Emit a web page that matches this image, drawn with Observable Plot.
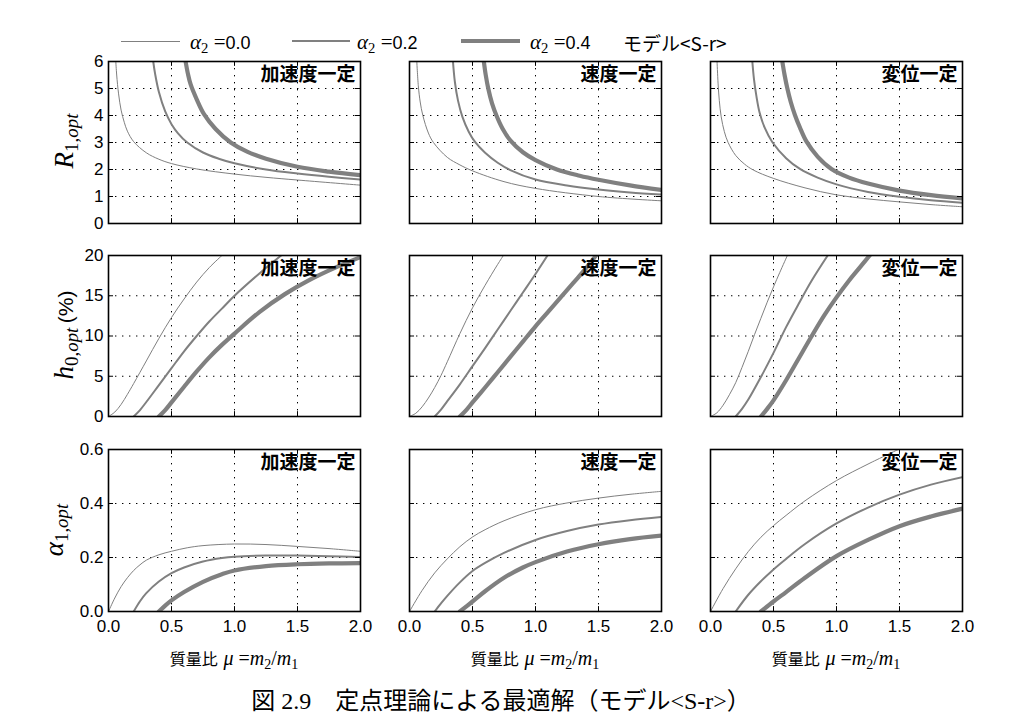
<!DOCTYPE html>
<html><head><meta charset="utf-8">
<script src="https://cdn.jsdelivr.net/npm/d3@7"></script>
<script src="https://cdn.jsdelivr.net/npm/@observablehq/plot@0.6"></script>
<style>
body{margin:0;background:#fff;}
#fig{position:relative;width:1018px;height:724px;font-family:"Liberation Sans",sans-serif;color:#000;overflow:hidden;}
.row{position:absolute;left:0;}
.math{font-family:"Liberation Serif","DejaVu Serif",serif;}
.math i{font-style:italic;}
sub{font-size:0.7em;vertical-align:-0.3em;line-height:0;}
.ylab{position:absolute;transform:translate(-50%,-50%) rotate(-90deg);white-space:nowrap;}
.xlab{position:absolute;transform:translate(-50%,-50%);white-space:nowrap;font-size:20px;}
.leg{position:absolute;white-space:nowrap;font-size:18px;transform:translateY(-50%);}
.legline{position:absolute;background:#808080;}
#caption{position:absolute;left:501px;top:698px;transform:translate(-50%,-50%);white-space:nowrap;font-size:24px;font-family:"Liberation Serif","Noto Sans CJK JP",serif;}
</style>
</head><body>
<div id="fig"></div>
<script>
// ---------- categories / series ----------
const modes = ["加速度一定", "速度一定", "変位一定"];
const alpha2 = [0.0, 0.2, 0.4];
const xTicks = [0, 0.5, 1.0, 1.5, 2.0];
const rTicks = [0, 1, 2, 3, 4, 5, 6];
const hTicks = [0, 5, 10, 15, 20];
const aTicks = [0.0, 0.2, 0.4, 0.6];

// ---------- R_1,opt  [mu, value] ----------
const R_acc_a00 = [[0.058,6.0],[0.065,5.5],[0.08,4.8],[0.1,4.2],[0.125,3.75],[0.15,3.42],[0.2,3.03],[0.3,2.62],[0.4,2.38],[0.5,2.22],[0.7,2.02],[1.0,1.83],[1.25,1.71],[1.5,1.61],[2.0,1.42]];
const R_acc_a02 = [[0.355,6.0],[0.37,5.54],[0.4,4.87],[0.45,4.15],[0.5,3.68],[0.55,3.35],[0.625,3.0],[0.75,2.63],[0.875,2.4],[1.0,2.23],[1.25,2.0],[1.5,1.85],[1.75,1.73],[2.0,1.63]];
const R_acc_a04 = [[0.612,6.0],[0.63,5.55],[0.652,5.15],[0.7,4.6],[0.758,4.05],[0.85,3.5],[0.97,3.0],[1.1,2.66],[1.25,2.4],[1.5,2.1],[1.75,1.92],[2.0,1.79]];
const R_vel_a00 = [[0.058,6.0],[0.07,5.1],[0.085,4.5],[0.106,4.0],[0.15,3.35],[0.19,3.0],[0.3,2.45],[0.4,2.17],[0.5,1.95],[0.75,1.55],[1.0,1.3],[1.5,1.0],[2.0,0.84]];
const R_vel_a02 = [[0.345,6.0],[0.36,5.25],[0.385,4.55],[0.42,3.95],[0.47,3.4],[0.52,3.02],[0.6,2.62],[0.7,2.25],[0.8,1.98],[1.0,1.63],[1.25,1.41],[1.5,1.26],[1.75,1.15],[2.0,1.07]];
const R_vel_a04 = [[0.59,6.0],[0.605,5.5],[0.625,5.0],[0.655,4.45],[0.69,4.0],[0.74,3.5],[0.8,3.08],[0.9,2.64],[1.0,2.35],[1.17,2.0],[1.35,1.77],[1.5,1.62],[1.75,1.41],[2.0,1.24]];
const R_dis_a00 = [[0.052,6.0],[0.06,5.2],[0.07,4.55],[0.085,3.95],[0.11,3.4],[0.14,3.0],[0.2,2.52],[0.27,2.2],[0.34,1.98],[0.5,1.67],[0.75,1.32],[1.0,1.06],[1.25,0.91],[1.5,0.8],[1.75,0.7],[2.0,0.62]];
const R_dis_a02 = [[0.332,6.0],[0.345,5.35],[0.365,4.7],[0.39,4.1],[0.43,3.55],[0.49,3.02],[0.6,2.42],[0.71,2.02],[0.85,1.7],[1.0,1.45],[1.25,1.17],[1.5,0.99],[1.75,0.86],[2.0,0.77]];
const R_dis_a04 = [[0.57,6.0],[0.588,5.5],[0.61,5.0],[0.637,4.5],[0.67,4.02],[0.71,3.55],[0.76,3.05],[0.85,2.48],[0.96,2.02],[1.1,1.7],[1.25,1.48],[1.5,1.22],[1.75,1.05],[2.0,0.93]];

// ---------- h_0,opt (%) ----------
const h_acc_a00 = [[0,0],[0.05,0.55],[0.1,1.5],[0.15,2.75],[0.2,4.1],[0.3,6.9],[0.4,9.7],[0.5,12.3],[0.6,14.6],[0.7,16.7],[0.8,18.5],[0.9,20]];
const h_acc_a02 = [[0.2,0],[0.25,0.8],[0.3,1.8],[0.4,3.9],[0.5,6.0],[0.6,8.1],[0.7,10.0],[0.8,11.8],[0.9,13.4],[1.0,15.0],[1.2,17.8],[1.37,20]];
const h_acc_a04 = [[0.4,0],[0.45,0.8],[0.5,1.75],[0.6,3.7],[0.7,5.6],[0.8,7.35],[0.9,8.9],[1.0,10.3],[1.2,13.0],[1.4,15.2],[1.6,17.0],[1.8,18.5],[2.0,19.8]];
const h_vel_a00 = [[0,0],[0.05,0.4],[0.1,1.2],[0.15,2.3],[0.2,3.6],[0.25,5.1],[0.3,6.8],[0.4,10.3],[0.5,13.5],[0.6,16.3],[0.7,18.9],[0.745,20]];
const h_vel_a02 = [[0.2,0],[0.25,0.85],[0.3,1.9],[0.4,4.0],[0.5,6.25],[0.6,8.5],[0.7,10.8],[0.8,13.1],[0.9,15.4],[1.0,17.7],[1.095,20]];
const h_vel_a04 = [[0.4,0],[0.45,0.8],[0.5,1.75],[0.6,3.6],[0.7,5.5],[0.8,7.4],[0.9,9.3],[1.0,11.2],[1.1,13.0],[1.2,14.8],[1.3,16.6],[1.4,18.4],[1.48,20]];
const h_dis_a00 = [[0,0],[0.05,0.45],[0.1,1.4],[0.15,2.7],[0.2,4.2],[0.25,6.1],[0.3,8.1],[0.35,10.2],[0.4,12.2],[0.45,14.2],[0.5,16.1],[0.55,17.9],[0.61,20]];
const h_dis_a02 = [[0.2,0],[0.25,0.95],[0.3,2.1],[0.4,4.9],[0.5,7.9],[0.6,11.1],[0.7,14.0],[0.8,16.8],[0.93,20]];
const h_dis_a04 = [[0.4,0],[0.45,0.95],[0.5,2.0],[0.6,4.5],[0.7,7.2],[0.8,9.9],[0.9,12.5],[1.0,14.8],[1.1,16.9],[1.2,18.8],[1.263,20]];

// ---------- alpha_1,opt ----------
const a_acc_a00 = [[0,0],[0.05,0.05],[0.1,0.092],[0.15,0.125],[0.2,0.152],[0.25,0.173],[0.3,0.19],[0.4,0.21],[0.5,0.223],[0.625,0.236],[0.75,0.244],[1.0,0.25],[1.25,0.248],[1.5,0.241],[1.75,0.233],[2.0,0.223]];
const a_acc_a02 = [[0.2,0],[0.25,0.038],[0.3,0.068],[0.4,0.111],[0.5,0.142],[0.6,0.163],[0.75,0.185],[0.9,0.198],[1.0,0.203],[1.25,0.207],[1.5,0.207],[1.75,0.205],[2.0,0.202]];
const a_acc_a04 = [[0.4,0],[0.45,0.022],[0.5,0.041],[0.6,0.072],[0.75,0.11],[0.9,0.138],[1.0,0.152],[1.25,0.168],[1.5,0.175],[1.75,0.178],[2.0,0.179]];
const a_vel_a00 = [[0,0],[0.1,0.078],[0.2,0.143],[0.3,0.195],[0.4,0.24],[0.5,0.276],[0.6,0.303],[0.75,0.336],[1.0,0.377],[1.25,0.402],[1.5,0.42],[1.75,0.434],[2.0,0.445]];
const a_vel_a02 = [[0.2,0],[0.25,0.03],[0.3,0.058],[0.4,0.108],[0.5,0.15],[0.6,0.18],[0.75,0.217],[1.0,0.265],[1.25,0.298],[1.5,0.322],[1.75,0.338],[2.0,0.35]];
const a_vel_a04 = [[0.4,0],[0.5,0.037],[0.6,0.075],[0.75,0.125],[0.9,0.163],[1.0,0.183],[1.25,0.222],[1.5,0.249],[1.75,0.268],[2.0,0.281]];
const a_dis_a00 = [[0,0],[0.1,0.085],[0.2,0.158],[0.3,0.222],[0.4,0.275],[0.5,0.318],[0.6,0.356],[0.75,0.41],[1.0,0.485],[1.25,0.546],[1.49,0.6]];
const a_dis_a02 = [[0.2,0],[0.3,0.062],[0.4,0.112],[0.5,0.156],[0.6,0.195],[0.75,0.25],[1.0,0.326],[1.25,0.385],[1.5,0.433],[1.75,0.47],[2.0,0.498]];
const a_dis_a04 = [[0.4,0],[0.5,0.037],[0.6,0.072],[0.75,0.125],[1.0,0.205],[1.25,0.265],[1.5,0.316],[1.75,0.352],[2.0,0.381]];

// ---------- build tables ----------
const toRows = (mode, a2, pts) => pts.map(([mu, v]) => ({mode, a2, mu, v}));
function table(sets) { // sets[modeIdx][a2Idx]
  return sets.flatMap((s, i) => s.flatMap((pts, j) => toRows(modes[i], alpha2[j], pts)));
}
const Rdata = table([[R_acc_a00,R_acc_a02,R_acc_a04],[R_vel_a00,R_vel_a02,R_vel_a04],[R_dis_a00,R_dis_a02,R_dis_a04]]);
const Hdata = table([[h_acc_a00,h_acc_a02,h_acc_a04],[h_vel_a00,h_vel_a02,h_vel_a04],[h_dis_a00,h_dis_a02,h_dis_a04]]);
const Adata = table([[a_acc_a00,a_acc_a02,a_acc_a04],[a_vel_a00,a_vel_a02,a_vel_a04],[a_dis_a00,a_dis_a02,a_dis_a04]]);

const widths = [1, 2, 4.2];
const gray = "#808080";

function rowPlot({data, yTicks, yFmt, showX, top, mt, mb, ph}) {
  const ymax = yTicks[yTicks.length - 1];
  const xIn = xTicks.slice(1, -1), yIn = yTicks.slice(1, -1);
  const dash = "1.4,5.6";
  const marks = [
    Plot.ruleX(xIn, {stroke: "black", strokeWidth: 1, strokeDasharray: dash}),
    Plot.ruleY(yIn, {stroke: "black", strokeWidth: 1, strokeDasharray: dash}),
    ...alpha2.map((a, k) => Plot.line(data.filter(d => d.a2 === a), {
      x: "mu", y: "v", fx: "mode", stroke: gray, strokeWidth: widths[k],
      curve: "catmull-rom", clip: true
    })),
    Plot.ruleX(xIn, {y1: 0, y2: ymax * 0.03, stroke: "black", strokeWidth: 1}),
    Plot.ruleX(xIn, {y1: ymax * 0.97, y2: ymax, stroke: "black", strokeWidth: 1}),
    Plot.ruleY(yIn, {x1: 0, x2: 0.04, stroke: "black", strokeWidth: 1}),
    Plot.ruleY(yIn, {x1: 1.96, x2: 2, stroke: "black", strokeWidth: 1}),
    Plot.frame({stroke: "black", strokeWidth: 1.6}),
    Plot.text(modes, {fx: d => d, text: d => d, frameAnchor: "top-right", dx: -5, dy: 6,
      fontSize: 19, fontWeight: "bold", fontFamily: "Noto Sans CJK JP", fill: "black"}),
    Plot.axisY(yTicks, {tickSize: 0, tickPadding: 5, fontSize: 17, label: null, tickFormat: yFmt, fill: "black"})
  ];
  if (showX) marks.push(Plot.axisX(xTicks, {tickSize: 0, tickPadding: 8, fontSize: 17, label: null, tickFormat: d3.format(".1f"), fill: "black"}));
  const p = Plot.plot({
    width: 1018, height: mt + ph + mb,
    marginLeft: 108, marginRight: 56, marginTop: mt, marginBottom: mb,
    fx: {domain: modes, paddingInner: 0.1628, paddingOuter: 0, axis: null, label: null},
    x: {domain: [0, 2], axis: showX ? undefined : null, label: null},
    y: {domain: [0, ymax], label: null},
    style: {fontFamily: "Liberation Sans", fontSize: "17px", color: "black", background: "transparent"},
    marks
  });
  p.classList.add("row");
  p.style.top = top + "px";
  return p;
}

const fig = document.getElementById("fig");
fig.appendChild(rowPlot({data: Rdata, yTicks: rTicks, yFmt: d3.format("d"), showX: false, top: 51, mt: 10, mb: 10, ph: 162}));
fig.appendChild(rowPlot({data: Hdata, yTicks: hTicks, yFmt: d3.format("d"), showX: false, top: 245, mt: 10, mb: 10, ph: 161}));
fig.appendChild(rowPlot({data: Adata, yTicks: aTicks, yFmt: d3.format(".1f"), showX: true, top: 439, mt: 10, mb: 35, ph: 162}));

// ---------- legend ----------
const legLines = [[121, 59, 1], [292, 58, 2], [461, 59, 4.2]];
const legTextX = [190, 357, 530];
legLines.forEach(([x, w, h], i) => {
  const l = document.createElement("div");
  l.className = "legline";
  l.style.cssText = `left:${x}px;width:${w}px;top:${41 - h / 2}px;height:${h}px;`;
  fig.appendChild(l);
  const t = document.createElement("div");
  t.className = "leg";
  t.style.cssText = `left:${legTextX[i]}px;top:42px;`;
  t.innerHTML = `<span class="math" style="font-size:21px"><i>α</i><sub>2</sub> =</span>${alpha2[i].toFixed(1)}`;
  fig.appendChild(t);
});
const mdl = document.createElement("div");
mdl.className = "leg";
mdl.style.cssText = "left:623px;top:42px;font-size:19px;font-family:'Noto Sans CJK JP',sans-serif;";
mdl.textContent = "モデル<S-r>";
fig.appendChild(mdl);

// ---------- axis titles ----------
const ylabs = [
  [64, 141, `<span class="math" style="font-size:27px"><i>R</i><sub>1,<i>opt</i></sub></span>`],
  [64, 335, `<span class="math" style="font-size:27px"><i>h</i><sub>0,<i>opt</i></sub></span> <span style="font-size:21px">(%)</span>`],
  [54, 530, `<span class="math" style="font-size:27px"><i>α</i><sub>1,<i>opt</i></sub></span>`]
];
ylabs.forEach(([x, y, html]) => {
  const d = document.createElement("div");
  d.className = "ylab";
  d.style.left = x + "px"; d.style.top = y + "px";
  d.innerHTML = html;
  fig.appendChild(d);
});
[234, 535, 836].forEach(cx => {
  const d = document.createElement("div");
  d.className = "xlab";
  d.style.left = cx + "px"; d.style.top = "658px";
  d.innerHTML = `<span style="font-family:'Noto Sans CJK JP';font-size:16px">質量比</span> <span class="math"><i>μ</i> =<i>m</i><sub>2</sub>/<i>m</i><sub>1</sub></span>`;
  fig.appendChild(d);
});
const cap = document.createElement("div");
cap.id = "caption";
cap.innerHTML = "図 2.9&emsp;定点理論による最適解（モデル&lt;S-r&gt;）";
fig.appendChild(cap);
</script>
</body></html>
